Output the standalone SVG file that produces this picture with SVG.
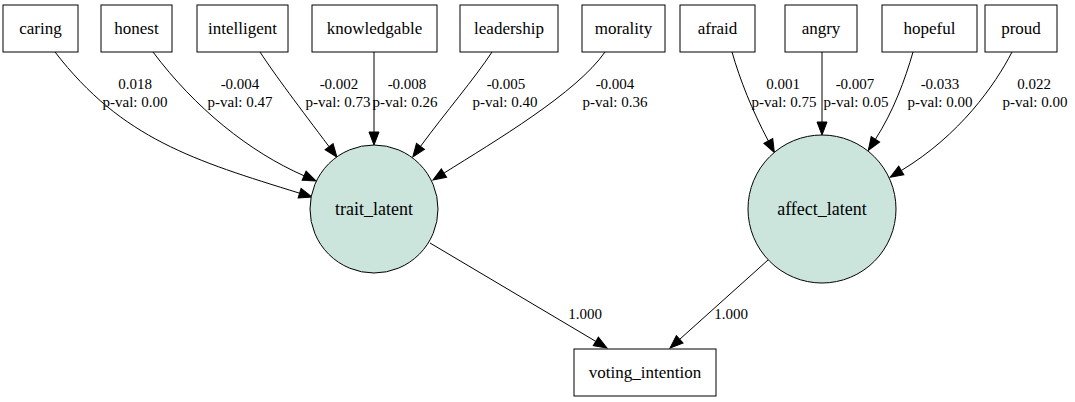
<svg xmlns="http://www.w3.org/2000/svg" width="1075" height="402" viewBox="0 0 1075 402">
<style>
.box{fill:#ffffff;stroke:#000000;stroke-width:1}
.lat{fill:#cbe5dd;stroke:#000000;stroke-width:1}
.nt{font-family:"Liberation Serif","Times New Roman",serif;font-size:17px;fill:#000;text-anchor:middle}
.lt{font-family:"Liberation Serif","Times New Roman",serif;font-size:18px;fill:#000;text-anchor:middle}
.el{font-family:"Liberation Serif","Times New Roman",serif;font-size:15px;fill:#000;text-anchor:middle}
.edge{fill:none;stroke:#000000;stroke-width:1;marker-end:url(#arr)}
</style>
<defs>
<marker id="arr" markerUnits="userSpaceOnUse" markerWidth="16" markerHeight="12" refX="0" refY="6" orient="auto" viewBox="0 0 16 12" overflow="visible">
<path d="M0,1 L13,6 L0,11 z" fill="#000" stroke="#000" stroke-width="1"/>
</marker>
</defs>
<rect width="1075" height="402" fill="#ffffff"/>
<g id="edges">
<path class="edge" d="M55,52 C122,139 194.8,160.7 299.6,193.2"/>
<path class="edge" d="M153,52 C195,108 249.1,151.8 304.1,175.8"/>
<path class="edge" d="M260,52 C275,75 300,108 329.1,146.7"/>
<path class="edge" d="M374,52 L374,132"/>
<path class="edge" d="M492,52 C475,78 445,113 420.5,146.4"/>
<path class="edge" d="M605,52 C576.5,93 494.8,141.2 444,173.1"/>
<path class="edge" d="M732,52 C740,80 752,110 768.3,140.9"/>
<path class="edge" d="M822,52 L822,122"/>
<path class="edge" d="M913,52 C905,80 893,112 875.4,139.3"/>
<path class="edge" d="M1012,52 C995,85 960,135 901.3,170.5"/>
<path class="edge" d="M430,243 L595.8,341.4"/>
<path class="edge" d="M768,260 L679.7,339.3"/>
<text class="el" x="135" y="89">0.018</text><text class="el" x="135" y="107">p-val: 0.00</text>
<text class="el" x="240" y="89">-0.004</text><text class="el" x="240" y="107">p-val: 0.47</text>
<text class="el" x="339" y="89">-0.002</text><text class="el" x="338" y="107">p-val: 0.73</text>
<text class="el" x="407" y="89">-0.008</text><text class="el" x="405" y="107">p-val: 0.26</text>
<text class="el" x="506" y="89">-0.005</text><text class="el" x="505" y="107">p-val: 0.40</text>
<text class="el" x="615" y="89">-0.004</text><text class="el" x="615" y="107">p-val: 0.36</text>
<text class="el" x="783" y="89">0.001</text><text class="el" x="784" y="107">p-val: 0.75</text>
<text class="el" x="855" y="89">-0.007</text><text class="el" x="856" y="107">p-val: 0.05</text>
<text class="el" x="940" y="89">-0.033</text><text class="el" x="940" y="107">p-val: 0.00</text>
<text class="el" x="1034" y="89">0.022</text><text class="el" x="1035" y="107">p-val: 0.00</text>
<text class="el" x="585" y="319">1.000</text>
<text class="el" x="731" y="319">1.000</text>
</g>
<g id="caring"><rect class="box" x="3" y="5" width="75" height="47"/><text class="nt" x="40.5" y="34">caring</text></g>
<g id="honest"><rect class="box" x="101" y="5" width="71" height="47"/><text class="nt" x="136.5" y="34">honest</text></g>
<g id="intelligent"><rect class="box" x="197" y="5" width="91" height="47"/><text class="nt" x="242.5" y="34">intelligent</text></g>
<g id="knowledgable"><rect class="box" x="312" y="5" width="125" height="47"/><text class="nt" x="374.5" y="34">knowledgable</text></g>
<g id="leadership"><rect class="box" x="460" y="5" width="98" height="47"/><text class="nt" x="509" y="34">leadership</text></g>
<g id="morality"><rect class="box" x="582" y="5" width="83" height="47"/><text class="nt" x="623.5" y="34">morality</text></g>
<g id="afraid"><rect class="box" x="680" y="5" width="75" height="47"/><text class="nt" x="717.5" y="34">afraid</text></g>
<g id="angry"><rect class="box" x="785" y="5" width="72" height="47"/><text class="nt" x="821" y="34">angry</text></g>
<g id="hopeful"><rect class="box" x="882" y="5" width="95" height="47"/><text class="nt" x="929.5" y="34">hopeful</text></g>
<g id="proud"><rect class="box" x="985" y="5" width="72" height="47"/><text class="nt" x="1021" y="34">proud</text></g>
<g id="trait_latent"><circle class="lat" cx="374" cy="209" r="64"/><text class="lt" x="374" y="215">trait_latent</text></g>
<g id="affect_latent"><circle class="lat" cx="822" cy="209" r="74"/><text class="lt" x="822" y="215">affect_latent</text></g>
<g id="voting_intention"><rect class="box" x="574" y="349" width="142" height="47"/><text class="nt" x="645" y="378">voting_intention</text></g>
</svg>
